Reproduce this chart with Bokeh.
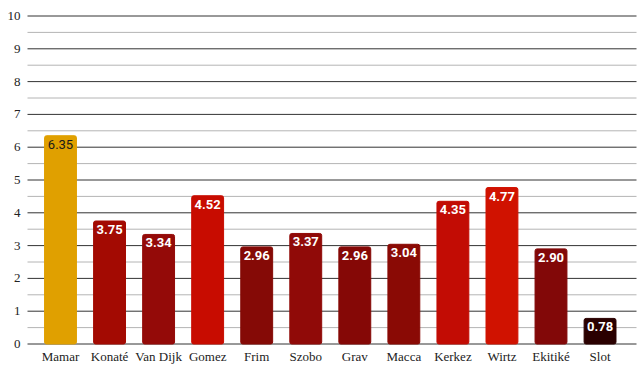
from bokeh.plotting import figure
from bokeh.models import ColumnDataSource, Range1d
from bokeh.embed import file_html
from bokeh.resources import INLINE
from bokeh.core.properties import value

players = ["Mamar", "Konaté", "Van Dijk", "Gomez", "Frim", "Szobo", "Grav",
           "Macca", "Kerkez", "Wirtz", "Ekitiké", "Slot"]
scores = [6.35, 3.75, 3.34, 4.52, 2.96, 3.37, 2.96, 3.04, 4.35, 4.77, 2.90, 0.78]
labels = ["6.35", "3.75", "3.34", "4.52", "2.96", "3.37", "2.96", "3.04",
          "4.35", "4.77", "2.90", "0.78"]
colors = ["#E0A000", "#A30A02", "#940A08", "#C80C00", "#850A06", "#900A08",
          "#850806", "#8A0A05", "#C20C04", "#D01200", "#820808", "#2A0000"]
label_colors = ["#1a1a1a"] + ["#ffffff"] * 11
label_styles = ["normal"] + ["bold"] * 11
y_ticks = [0, 1, 2, 3, 4, 5, 6, 7, 8, 9, 10]
y_tick_labels = ["0", "1", "2", "3", "4", "5", "6", "7", "8", "9", "10"]
y_minor = [t + 0.5 for t in y_ticks[:-1]]

W, H = 640, 370
PX_X, PX_Y = 49.05, 32.8
X0_PX, Y0_PX = 60.0, 343.5
x_lo = -X0_PX / PX_X
x_hi = (W - X0_PX) / PX_X
y_lo = -(H - Y0_PX) / PX_Y
y_hi = Y0_PX / PX_Y
grid_x0 = (27 - X0_PX) / PX_X
grid_x1 = (636 - X0_PX) / PX_X

n = len(players)
idx = list(range(n))
src = ColumnDataSource(dict(x=idx, name=players, top=scores, lab=labels,
                            zero=[0] * n, color=colors,
                            lcolor=label_colors, lstyle=label_styles,
                            nstyle=["normal"] * n,
                            nfont=["Liberation Serif"] * n))
ysrc = ColumnDataSource(dict(x=[grid_x0] * len(y_ticks), y=y_ticks,
                             lab=y_tick_labels,
                             nstyle=["normal"] * len(y_ticks),
                             nfont=["Liberation Serif"] * len(y_ticks)))

p = figure(width=W, height=H, output_backend="svg", toolbar_location=None,
           x_range=Range1d(x_lo, x_hi), y_range=Range1d(y_lo, y_hi),
           min_border=0)
p.outline_line_color = None
p.background_fill_color = "white"
p.border_fill_color = "white"
p.xaxis.visible = False
p.yaxis.visible = False
p.xgrid.visible = False
p.ygrid.visible = False

p.segment(x0=[grid_x0] * len(y_minor), x1=[grid_x1] * len(y_minor),
          y0=y_minor, y1=y_minor, line_color="#b4b4b4", line_width=1)
p.segment(x0=[grid_x0] * len(y_ticks), x1=[grid_x1] * len(y_ticks),
          y0=y_ticks, y1=y_ticks, line_color="#333333", line_width=1)

p.vbar(x="x", top="top", width=0.65, source=src, fill_color="color",
       line_color="color", border_radius=2)

p.text(x="x", y="top", text="lab", source=src, text_color="lcolor",
       text_align="center", text_baseline="top", y_offset=4,
       text_font=value("Roboto"), text_font_style="lstyle",
       text_font_size="13px")

p.text(x="x", y="zero", text="name", source=src, text_color="#222222",
       text_align="center", text_baseline="middle", y_offset=12,
       text_font="nfont", text_font_style="nstyle", text_font_size="13px")

p.text(x="x", y="y", text="lab", source=ysrc,
       text_color="#222222", text_align="right", text_baseline="middle",
       x_offset=-7, text_font="nfont", text_font_style="nstyle",
       text_font_size="13px")

open("out.html", "w").write(file_html(p, INLINE))
